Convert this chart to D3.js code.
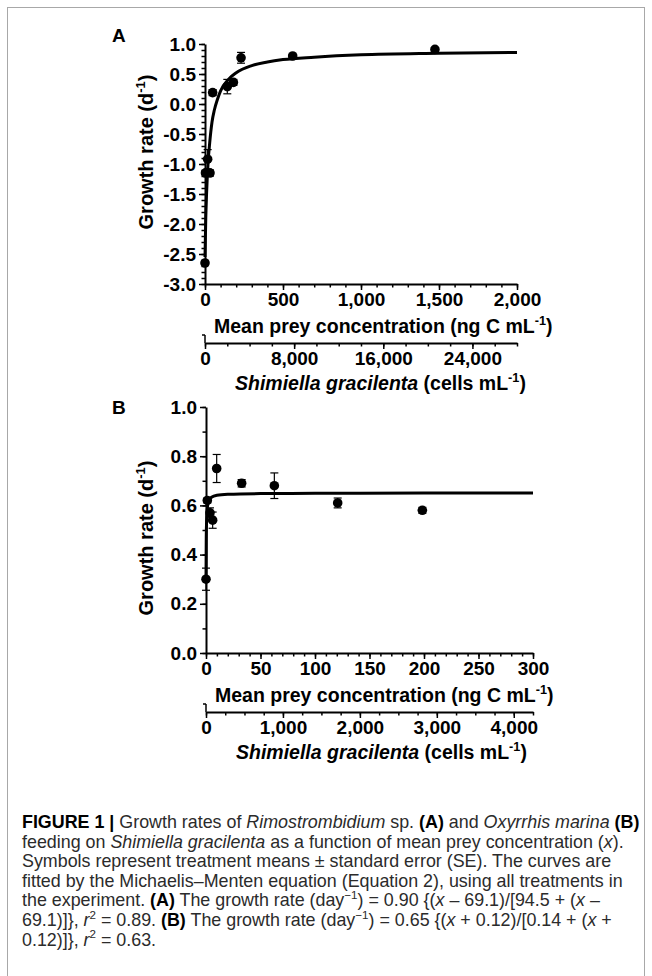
<!DOCTYPE html>
<html lang="en">
<head>
<meta charset="UTF-8">
<script src="https://d3js.org/d3.v7.min.js"></script>
<title>Figure 1</title>
<style>
  body { margin: 0; background: #fff; }
  svg text { font-family: "Liberation Sans", Arial, Helvetica, sans-serif; }
</style>
</head>
<body>
<div id="chart"></div>
<script>
// ---- panel A : Rimostrombidium sp. ----
var concA = [0, 3, 17, 32, 49, 143, 182, 231, 562, 1474];
var rateA = [-2.65, -1.15, -0.92, -1.15, 0.19, 0.29, 0.36, 0.77, 0.80, 0.91];
var seA   = [0.03, 0.03, 0.16, 0.05, 0.05, 0.12, 0.05, 0.09, 0.02, 0.03];
// fitted curve
var fitConcA = [0, 5, 10, 20, 30, 45, 60, 80, 100, 150, 200, 300, 400, 500, 700, 1000, 1500, 2000];
var fitRateA = [-2.55, -1.9, -1.5, -0.97, -0.65, -0.3, -0.1, 0.08, 0.22, 0.41, 0.52, 0.64, 0.70, 0.74, 0.78, 0.82, 0.845, 0.86];

// ---- panel B : Oxyrrhis marina ----
var concB = [0, 1.2, 3.7, 6.1, 9.8, 32.7, 62.7, 120.8, 198.5];
var rateB = [0.30, 0.62, 0.57, 0.54, 0.75, 0.69, 0.68, 0.61, 0.58];
var seB   = [0.045, 0.01, 0.02, 0.033, 0.057, 0.015, 0.052, 0.02, 0.012];
var fitConcB = [0, 0.2, 0.5, 1, 2, 3, 5, 10, 20, 50, 100, 200, 300];
var fitRateB = [0.30, 0.45, 0.53, 0.58, 0.61, 0.62, 0.633, 0.641, 0.645, 0.648, 0.649, 0.65, 0.65];

// ---- tick labels ----
var yTicksA = [-3.0, -2.5, -2.0, -1.5, -1.0, -0.5, 0.0, 0.5, 1.0];
var xTicksA = [0, 500, 1000, 1500, 2000];
var cellTicksA = [0, 8000, 16000, 24000];
var yTicksB = [0.0, 0.2, 0.4, 0.6, 0.8, 1.0];
var xTicksB = [0, 50, 100, 150, 200, 250, 300];
var cellTicksB = [0, 1000, 2000, 3000, 4000];

var W = 652, H = 976;
var svg = d3.select('#chart').append('svg').attr('width', W).attr('height', H);

// frame
svg.append('rect').attr('x', 7.5).attr('y', 7.5).attr('width', 637).attr('height', 1000)
  .attr('fill', 'none').attr('stroke', '#a8a8a8').attr('stroke-width', 1);

function rich(txt, parts, size) {
  var shift = 0;
  parts.forEach(function(p) {
    var st = p[1] || '';
    var ts = txt.append('tspan').text(p[0]);
    if (st.indexOf('b') >= 0) ts.attr('font-weight', 'bold').attr('fill', '#000');
    if (st.indexOf('i') >= 0) ts.attr('font-style', 'italic');
    var want = st.indexOf('s') >= 0 ? -size * 0.42 : 0;
    if (want !== shift) { ts.attr('dy', want - shift); shift = want; }
    if (st.indexOf('s') >= 0) ts.attr('font-size', size * 0.65);
  });
}

var FS = 19;     // tick labels
var TS = 19.5;   // axis titles

function styleAxis(g) {
  g.attr('font-size', null).attr('font-family', null);
  g.select('.domain').attr('stroke-width', 2).attr('stroke', '#000');
  g.selectAll('.tick line').attr('stroke-width', 1.5).attr('stroke', '#000');
  g.selectAll('.tick text').attr('font-size', FS).attr('font-weight', 'bold').attr('fill', '#000');
}

function drawPanel(o) {
  var x = d3.scaleLinear().domain(o.xDomain).range(o.xRange);
  var y = d3.scaleLinear().domain(o.yDomain).range(o.yRange);
  var cells = d3.scaleLinear().domain(o.cellDomain).range(o.xRange);
  var base = o.yRange[0];
  var g = svg.append('g');

  // y axis
  g.append('g').attr('transform', 'translate(' + o.xRange[0] + ',0)')
    .call(d3.axisLeft(y).tickValues(o.yMinor).tickSize(3.5).tickFormat(''))
    .call(function(a) { a.select('.domain').remove(); styleAxis(a); });
  g.append('g').attr('transform', 'translate(' + o.xRange[0] + ',0)')
    .call(d3.axisLeft(y).tickValues(o.yTicks).tickSize(6).tickSizeOuter(0)
      .tickFormat(function(d) { return d.toFixed(1); }))
    .call(styleAxis);

  // x axis
  g.append('g').attr('transform', 'translate(0,' + base + ')')
    .call(d3.axisBottom(x).tickValues(o.xMinor).tickSize(3.5).tickFormat(''))
    .call(function(a) { a.select('.domain').remove(); styleAxis(a); });
  g.append('g').attr('transform', 'translate(0,' + base + ')')
    .call(d3.axisBottom(x).tickValues(o.xTicks).tickSize(6).tickSizeOuter(0).tickFormat(d3.format(',')))
    .call(styleAxis);

  // secondary x axis (cells)
  var b2 = base + 59;
  g.append('g').attr('transform', 'translate(0,' + b2 + ')')
    .call(d3.axisBottom(cells).tickValues(o.cellMinor).tickSize(3.5).tickFormat(''))
    .call(function(a) { a.select('.domain').remove(); styleAxis(a); });
  g.append('g').attr('transform', 'translate(0,' + b2 + ')')
    .call(d3.axisBottom(cells).tickValues(o.cellTicks).tickSize(6).tickSizeOuter(0).tickFormat(d3.format(',')))
    .call(styleAxis);
  g.append('line').attr('x1', cells(0)).attr('x2', cells(0)).attr('y1', b2 - 8).attr('y2', b2)
    .attr('stroke', '#000').attr('stroke-width', 1.5);
  g.append('line').attr('x1', cells(0) - 3).attr('x2', cells(0)).attr('y1', b2 - 8).attr('y2', b2 - 8)
    .attr('stroke', '#000').attr('stroke-width', 1.5);

  // titles
  var t1 = g.append('text').attr('x', o.xRange[0] + 9).attr('y', base + 49)
    .attr('font-size', TS).attr('font-weight', 'bold');
  rich(t1, [['Mean prey concentration (ng C mL'], ['-1', 's'], [')']], TS);
  var t2 = g.append('text').attr('x', o.xRange[0] + 30).attr('y', base + 106)
    .attr('font-size', TS).attr('font-weight', 'bold');
  rich(t2, [['Shimiella gracilenta', 'i'], [' (cells mL'], ['-1', 's'], [')']], TS);
  var t3 = g.append('text').attr('font-size', 20).attr('font-weight', 'bold')
    .attr('text-anchor', 'middle')
    .attr('transform', 'translate(153,' + o.yTitle + ') rotate(-90)');
  rich(t3, [['Growth rate (d'], ['-1', 's'], [')']], 20);
  g.append('text').attr('x', 112).attr('y', o.labelY).attr('font-size', 19)
    .attr('font-weight', 'bold').text(o.label);

  // fitted curve
  var line = d3.line().x(function(d) { return x(d[0]); }).y(function(d) { return y(d[1]); })
    .curve(d3.curveMonotoneX);
  g.append('path').datum(d3.zip(o.fitX, o.fitY)).attr('d', line)
    .attr('fill', 'none').attr('stroke', '#000').attr('stroke-width', 3);

  // error bars and points
  var pts = d3.zip(o.cx, o.cy, o.se);
  var eb = g.append('g').attr('stroke', '#000').attr('stroke-width', 1.2);
  pts.forEach(function(p) {
    var px = x(p[0]);
    eb.append('line').attr('x1', px).attr('x2', px).attr('y1', y(p[1] - p[2])).attr('y2', y(p[1] + p[2]));
    [p[1] - p[2], p[1] + p[2]].forEach(function(v) {
      eb.append('line').attr('x1', px - 4).attr('x2', px + 4).attr('y1', y(v)).attr('y2', y(v));
    });
  });
  g.append('g').selectAll('circle').data(pts).join('circle')
    .attr('cx', function(d) { return x(d[0]); })
    .attr('cy', function(d) { return y(d[1]); })
    .attr('r', 4.8).attr('fill', '#000');
}

drawPanel({
  label: 'A', labelY: 42, yTitle: 152,
  xDomain: [0, 2000], xRange: [205, 517],
  yDomain: [-3, 1], yRange: [284, 44],
  cellDomain: [0, 28000],
  yTicks: yTicksA, yMinor: d3.range(-30, 11).map(function(v) { return v / 10; }),
  xTicks: xTicksA, xMinor: d3.range(0, 2001, 100),
  cellTicks: cellTicksA, cellMinor: d3.range(0, 28001, 2000),
  cx: concA, cy: rateA, se: seA, fitX: fitConcA, fitY: fitRateA
});

drawPanel({
  label: 'B', labelY: 414, yTitle: 538,
  xDomain: [0, 300], xRange: [206, 533],
  yDomain: [0, 1], yRange: [653, 407],
  cellDomain: [0, 4250],
  yTicks: yTicksB, yMinor: d3.range(0, 11).map(function(v) { return v / 10; }),
  xTicks: xTicksB, xMinor: d3.range(0, 301, 10),
  cellTicks: cellTicksB, cellMinor: d3.range(0, 4251, 250),
  cx: concB, cy: rateB, se: seB, fitX: fitConcB, fitY: fitRateB
});

// caption
var capLines = [
  [['FIGURE 1 | ', 'b'], ['Growth rates of '], ['Rimostrombidium', 'i'], [' sp. '], ['(A)', 'b'], [' and '], ['Oxyrrhis marina', 'i'], [' '], ['(B)', 'b']],
  [['feeding on '], ['Shimiella gracilenta', 'i'], [' as a function of mean prey concentration ('], ['x', 'i'], [').']],
  [['Symbols represent treatment means \u00b1 standard error (SE). The curves are']],
  [['fitted by the Michaelis\u2013Menten equation (Equation 2), using all treatments in']],
  [['the experiment. '], ['(A)', 'b'], [' The growth rate (day'], ['\u22121', 's'], [') = 0.90 {('], ['x', 'i'], [' \u2013 69.1)/[94.5 + ('], ['x', 'i'], [' \u2013']],
  [['69.1)]}, '], ['r', 'i'], ['2', 's'], [' = 0.89. '], ['(B)', 'b'], [' The growth rate (day'], ['\u22121', 's'], [') = 0.65 {('], ['x', 'i'], [' + 0.12)/[0.14 + ('], ['x', 'i'], [' +']],
  [['0.12)]}, '], ['r', 'i'], ['2', 's'], [' = 0.63.']]
];
var CS = 17.5;
var cap = svg.append('g').attr('fill', '#2b2b2b');
var capTexts = capLines.map(function(parts, i) {
  var t = cap.append('text').attr('x', 0).attr('y', 0).attr('font-size', CS);
  rich(t, parts, CS);
  return t;
});
// stretch so the first line fills the caption width
var sx = 618 / capTexts[0].node().getComputedTextLength();
capTexts.forEach(function(t, i) {
  t.attr('transform', 'translate(22,' + (828 + i * 19.6) + ') scale(' + sx + ',1)');
});
</script>
</body>
</html>
